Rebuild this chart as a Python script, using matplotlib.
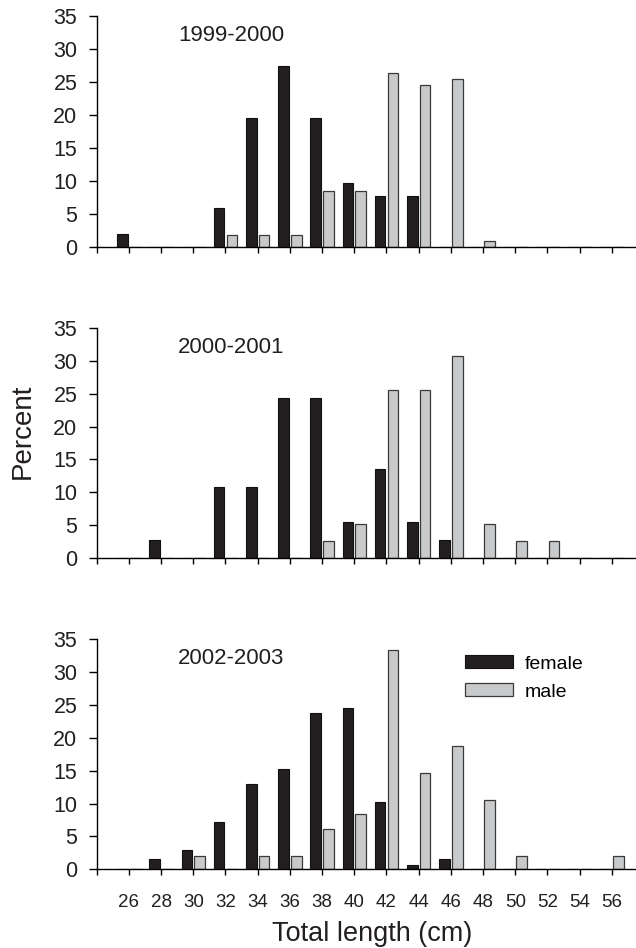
import numpy as np
import matplotlib
matplotlib.use("Agg")
import matplotlib.pyplot as plt

plt.rcParams["font.family"] = ["Liberation Sans", "DejaVu Sans"]

# classes de comprimento total (cm)
comprimentos = [26, 28, 30, 32, 34, 36, 38, 40, 42, 44, 46, 48, 50, 52, 54, 56]

temporadas = ["1999-2000", "2000-2001", "2002-2003"]

femea_1999 = [2.0, 0, 0, 5.9, 19.6, 27.4, 19.6, 9.8, 7.8, 7.8, 0, 0, 0, 0, 0, 0]
macho_1999 = [0, 0, 0, 1.9, 1.9, 1.9, 8.5, 8.5, 26.4, 24.5, 25.5, 0.9, 0, 0, 0, 0]

femea_2000 = [0, 2.7, 0, 10.8, 10.8, 24.3, 24.3, 5.4, 13.5, 5.4, 2.7, 0, 0, 0, 0, 0]
macho_2000 = [0, 0, 0, 0, 0, 0, 2.6, 5.1, 25.6, 25.6, 30.8, 5.1, 2.6, 2.6, 0, 0]

femea_2002 = [0, 1.5, 2.9, 7.2, 13.0, 15.2, 23.8, 24.5, 10.2, 0.7, 1.5, 0, 0, 0, 0, 0]
macho_2002 = [0, 0, 2.1, 0, 2.1, 2.1, 6.2, 8.4, 33.4, 14.6, 18.8, 10.5, 2.1, 0, 0, 2.1]

femeas = [femea_1999, femea_2000, femea_2002]
machos = [macho_1999, macho_2000, macho_2002]

cor_femea = "#231f20"
cor_macho = "#c8c9cb"

fig = plt.figure(figsize=(6.36, 9.48), dpi=100)

# posicoes dos paineis em pixels (topo, base), convertidas pra fracao da figura
esq = 96.7 / 636
larg = 1.0 - esq
paineis = [(16, 247.3), (328.3, 557.7), (639.3, 869.3)]

pos = np.arange(1, len(comprimentos) + 1)
larg_barra = 0.33
desloc = 0.2

for i, (topo, base) in enumerate(paineis):
    ax = fig.add_axes([esq, 1 - base / 948, larg, (base - topo) / 948])
    ax.bar(pos - desloc, femeas[i], width=larg_barra, color=cor_femea,
           edgecolor="#111111", linewidth=0.8, label="female", zorder=2)
    ax.bar(pos + desloc, machos[i], width=larg_barra, color=cor_macho,
           edgecolor="#3a3a3a", linewidth=0.9, label="male", zorder=2)

    ax.set_xlim(0, 16.75)
    ax.set_ylim(0, 35)
    ax.set_yticks(range(0, 36, 5))
    ax.set_xticks(range(0, 17))
    for lado in ["top", "right"]:
        ax.spines[lado].set_visible(False)
    for lado in ["left", "bottom"]:
        ax.spines[lado].set_linewidth(1.0)
        ax.spines[lado].set_zorder(3)
    ax.tick_params(axis="y", direction="out", length=5.5, width=1.0, labelsize=15.5, pad=8.5,
                   labelcolor="#231f20")
    ax.tick_params(axis="x", direction="out", length=4.5, width=1.0, labelsize=13.5, pad=13,
                   labelcolor="#231f20")

    if i == 2:
        ax.set_xticklabels([""] + [str(c) for c in comprimentos])
        ax.legend(loc="upper left", bbox_to_anchor=(0.6837, 0.93), frameon=False,
                  fontsize=14, handlelength=2.45, handleheight=0.65,
                  handletextpad=0.6, labelspacing=0.55, borderpad=0, borderaxespad=0)
    else:
        ax.set_xticklabels([])

    ax.text(2.52, 31.2, temporadas[i], fontsize=16, ha="left", va="baseline", color="#231f20")

fig.text(22.5 / 636, 1 - 431 / 948, "Percent", rotation=90, ha="center", va="center",
         fontsize=20, color="#231f20")
fig.text(372.5 / 636, 1 - 934 / 948, "Total length (cm)", ha="center", va="center",
         fontsize=19.5, color="#231f20")

fig.savefig("out.png", dpi=100)
